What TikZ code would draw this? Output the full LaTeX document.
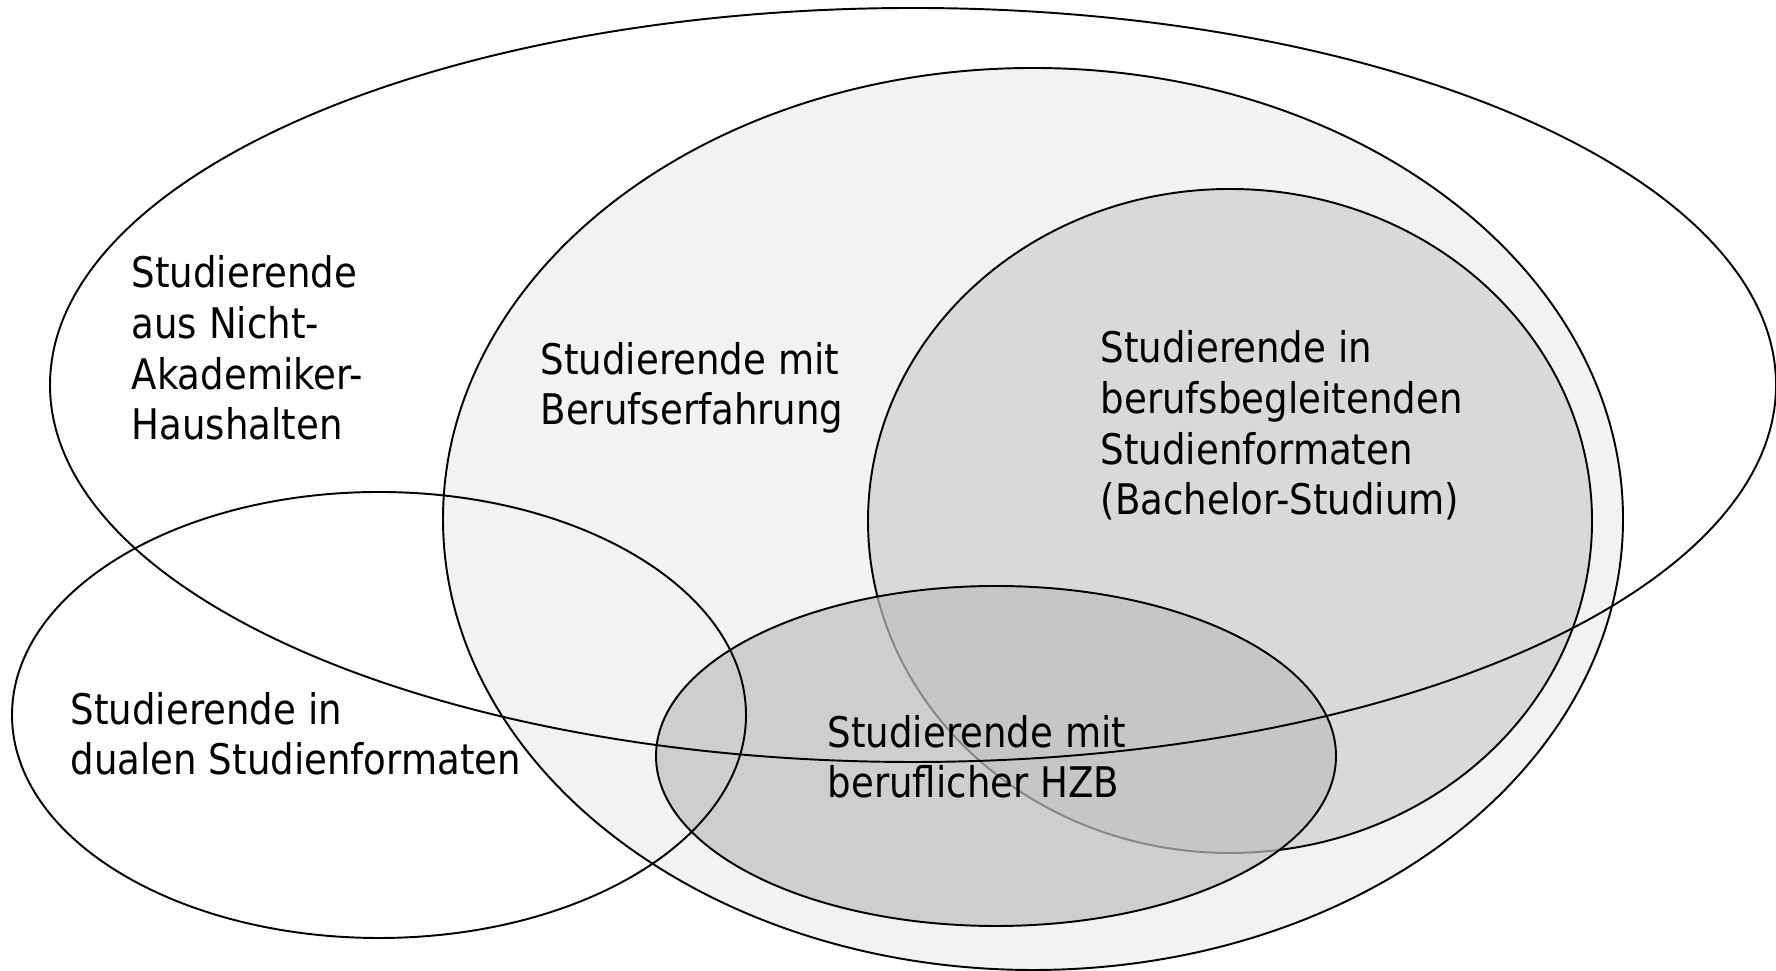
\documentclass[tikz,border=0pt]{standalone}
\usepackage{fontspec}
\setmainfont{DejaVu Sans}[FakeStretch=0.88]
\usepackage{tikz}

\definecolor{hellgrau}{gray}{0.95}
\definecolor{mittelgrau}{gray}{0.85}
\definecolor{hzbgrau}{gray}{0.75}

\tikzset{
  kreis/.style={draw=black, line width=0.55pt},
  gruppe/.style={align=left, anchor=base west, inner sep=0pt,
    font=\fontsize{12}{14.5}\selectfont}
}

\begin{document}
\begin{tikzpicture}
        \useasboundingbox (0,0) rectangle (17.76,9.71);
        % gefuellte Mengen
        \draw[kreis, fill=hellgrau] (10.33,4.52) ellipse [x radius=5.90cm, y radius=4.51cm];
        \draw[kreis, fill=mittelgrau] (12.30,4.50) ellipse [x radius=3.62cm, y radius=3.32cm];
        \draw[kreis, fill=hzbgrau, fill opacity=0.7] (9.96,2.15) ellipse [x radius=3.40cm, y radius=1.70cm];
        % offene Mengen obenauf
        \draw[kreis] (9.13,5.86) ellipse [x radius=8.63cm, y radius=3.77cm];
        \draw[kreis] (3.79,2.56) ellipse [x radius=3.67cm, y radius=2.23cm];
        % Beschriftungen (Position = Grundlinie der letzten Zeile)
        \node[gruppe] (akad) at (1.31,5.31) {Studierende\\aus Nicht-\\Akademiker-\\Haushalten};
        \node[gruppe] (erfahrung) at (5.40,5.46) {Studierende mit\\Berufserfahrung};
        \node[gruppe] (begleitend) at (11.00,4.56) {Studierende in\\berufsbegleitenden\\Studienformaten\\(Bachelor-Studium)};
        \node[gruppe] (hzb) at (8.27,1.73) {Studierende mit\\beruflicher HZB};
        \node[gruppe] (dual) at (0.70,1.96) {Studierende in\\dualen Studienformaten};
    \end{tikzpicture}
\end{document}
